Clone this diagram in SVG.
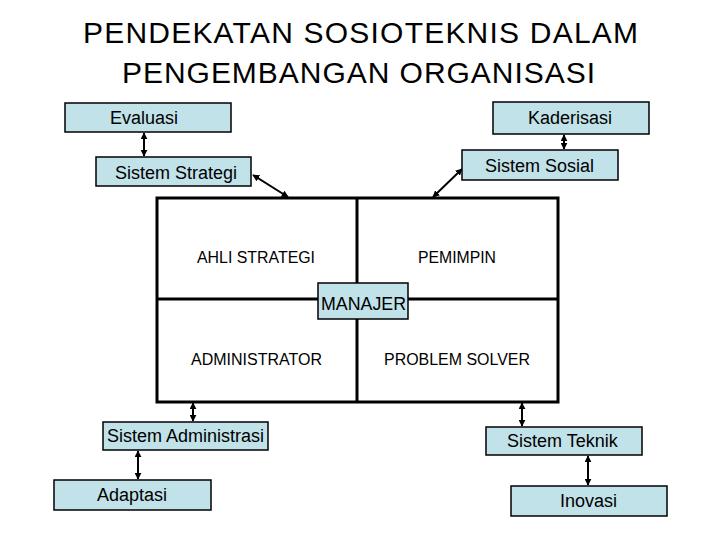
<svg xmlns="http://www.w3.org/2000/svg" width="720" height="540" viewBox="0 0 720 540">
<defs>
<marker id="ah" viewBox="0 0 10 10" refX="9" refY="5" markerWidth="3.5" markerHeight="3.5" orient="auto-start-reverse" markerUnits="strokeWidth">
<path d="M0,0 L10,5 L0,10 z" fill="#000"/>
</marker>
<style>
.box{fill:#c0e2e8;stroke:#000;stroke-width:1.5}
.lbl{font-family:"Liberation Sans",Arial,sans-serif;font-size:18px;fill:#000}
.q{font-family:"Liberation Sans",Arial,sans-serif;font-size:16px;fill:#000}
.title{font-family:"Liberation Sans",Arial,sans-serif;font-size:30px;fill:#000}
.frame{fill:none;stroke:#000;stroke-width:3}
.conn{stroke:#000;stroke-width:2;fill:none;marker-start:url(#ah);marker-end:url(#ah)}
</style>
</defs>
<rect width="720" height="540" fill="#fff"/>
<g id="title">
<text class="title" x="83" y="43" textLength="555" lengthAdjust="spacing">PENDEKATAN SOSIOTEKNIS DALAM</text>
<text class="title" x="122" y="83" textLength="473" lengthAdjust="spacing">PENGEMBANGAN ORGANISASI</text>
</g>
<g id="grid">
<rect class="frame" x="157" y="198" width="401" height="204"/>
<line class="frame" x1="357" y1="198" x2="357" y2="402"/>
<line class="frame" x1="157" y1="299" x2="558" y2="299"/>
<text class="q" x="197" y="263" textLength="118" lengthAdjust="spacingAndGlyphs">AHLI STRATEGI</text>
<text class="q" x="418" y="263" textLength="78" lengthAdjust="spacingAndGlyphs">PEMIMPIN</text>
<text class="q" x="191" y="365" textLength="131" lengthAdjust="spacingAndGlyphs">ADMINISTRATOR</text>
<text class="q" x="384" y="365" textLength="146" lengthAdjust="spacingAndGlyphs">PROBLEM SOLVER</text>
</g>
<g id="connectors">
<line class="conn" x1="144" y1="133" x2="144" y2="156"/>
<line class="conn" x1="564" y1="135" x2="564" y2="149"/>
<line class="conn" x1="253" y1="175" x2="288" y2="197"/>
<line class="conn" x1="462" y1="169" x2="433" y2="197"/>
<line class="conn" x1="193" y1="403" x2="193" y2="421"/>
<line class="conn" x1="138" y1="451" x2="138" y2="479"/>
<line class="conn" x1="522" y1="403" x2="522" y2="426"/>
<line class="conn" x1="588" y1="456" x2="588" y2="485"/>
</g>
<g id="manajer">
<rect class="box" x="318" y="283" width="90" height="36"/>
<text class="lbl" x="321" y="310" textLength="85" lengthAdjust="spacingAndGlyphs">MANAJER</text>
</g>
<g id="evaluasi">
<rect class="box" x="65" y="103" width="166" height="29"/>
<text class="lbl" x="110" y="124">Evaluasi</text>
</g>
<g id="kaderisasi">
<rect class="box" x="493" y="102" width="156" height="32"/>
<text class="lbl" x="528" y="124">Kaderisasi</text>
</g>
<g id="sistem-strategi">
<rect class="box" x="96" y="157" width="155" height="29"/>
<text class="lbl" x="115" y="179">Sistem Strategi</text>
</g>
<g id="sistem-sosial">
<rect class="box" x="462" y="150" width="156" height="30"/>
<text class="lbl" x="485" y="172">Sistem Sosial</text>
</g>
<g id="sistem-administrasi">
<rect class="box" x="103" y="422" width="165" height="28"/>
<text class="lbl" x="107" y="442">Sistem Administrasi</text>
</g>
<g id="adaptasi">
<rect class="box" x="54" y="480" width="157" height="30"/>
<text class="lbl" x="97" y="501">Adaptasi</text>
</g>
<g id="sistem-teknik">
<rect class="box" x="486" y="427" width="156" height="28"/>
<text class="lbl" x="507" y="447">Sistem Teknik</text>
</g>
<g id="inovasi">
<rect class="box" x="511" y="486" width="156" height="30"/>
<text class="lbl" x="560" y="507">Inovasi</text>
</g>
</svg>
